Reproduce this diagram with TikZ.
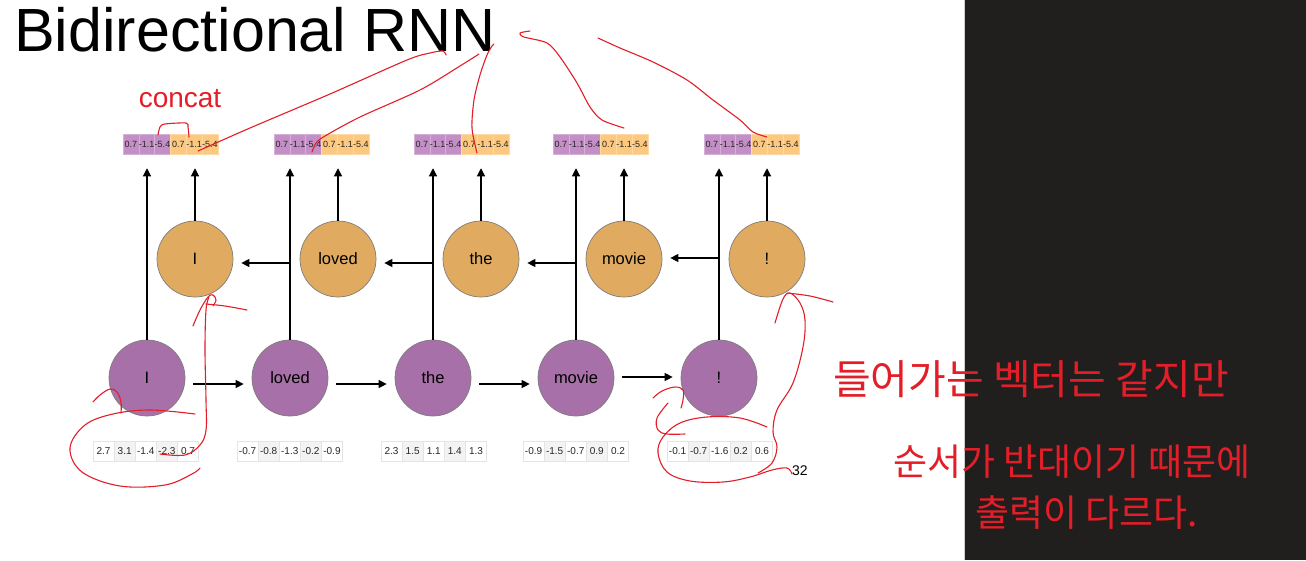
\documentclass[tikz,border=0pt]{standalone}
\usepackage{fontspec}
\setmainfont{Liberation Sans}
\newfontfamily\krfont{Noto Sans CJK KR}
\usetikzlibrary{arrows.meta,calc}
\definecolor{purpnode}{RGB}{168,112,168}
\definecolor{orngnode}{RGB}{224,170,96}
\definecolor{vpurp}{RGB}{195,143,198}
\definecolor{vorng}{RGB}{253,201,128}
\definecolor{cellgray}{RGB}{243,243,243}
\definecolor{celledge}{RGB}{228,228,228}
\definecolor{nodeedge}{RGB}{125,125,125}
\definecolor{ink}{RGB}{227,30,40}
\definecolor{panel}{RGB}{32,31,30}
\newcommand{\fsz}[1]{\fontsize{#1}{#1}\selectfont}
\tikzset{
  purp/.style={circle, draw=nodeedge, line width=0.7, fill=purpnode, minimum size=76, inner sep=0, font=\fsz{16.5}},
  orng/.style={circle, draw=nodeedge, line width=0.7, fill=orngnode, minimum size=76, inner sep=0, font=\fsz{16.5}},
  tcellp/.style={fill=vpurp, draw=vpurp!70!white, line width=0.5, minimum width=15.8, minimum height=20, inner sep=0, font=\fsz{9}, text=black!85},
  tcello/.style={fill=vorng, draw=vorng!70!white, line width=0.5, minimum width=15.8, minimum height=20, inner sep=0, font=\fsz{9}, text=black!85},
  bcell/.style={draw=celledge, line width=0.6, minimum width=21.1, minimum height=20, inner sep=0, font=\fsz{10}, text=black!85},
  arr/.style={-{Triangle[length=8,width=8]}, line width=1.1},
  redink/.style={draw=ink, line width=1.1, line cap=round, line join=round},
}
\begin{document}
\begin{tikzpicture}[x=1pt,y=-1pt]
\useasboundingbox (0,0) rectangle (1306,560);
\fill[white] (0,0) rectangle (1306,560);
\fill[panel] (965,0) rectangle (1306,560);
\draw[black!20, line width=1] (964.5,0) -- (964.5,560);

\node[anchor=base west, inner sep=0, font=\fsz{61}] (title) at (14,51) {Bidirectional RNN};

\foreach \i/\w in {1/I,2/loved,3/the,4/movie,5/!} {
  \node[purp] (p\i) at ({147+143*(\i-1)},378) {\w};
  \node[orng] (o\i) at ({195+143*(\i-1)},259) {\w};
}

% top vectors
\foreach \v/\L in {1/123,2/274,3/414,4/553,5/704} {
  \foreach \c/\t in {1/0.7,2/-1.1,3/-5.4} {
    \node[tcellp] (t\v-\c) at ({\L+15.8*(\c-0.5)},144) {\t};
  }
  \foreach \c/\t in {4/0.7,5/-1.1,6/-5.4} {
    \node[tcello] (t\v-\c) at ({\L+15.8*(\c-0.5)},144) {\t};
  }
}

% bottom vectors
\foreach \v/\L/\a/\b/\c/\d/\e in {1/93/2.7/3.1/-1.4/-2.3/0.7, 2/237/-0.7/-0.8/-1.3/-0.2/-0.9, 3/381/2.3/1.5/1.1/1.4/1.3, 4/523/-0.9/-1.5/-0.7/0.9/0.2, 5/667/-0.1/-0.7/-1.6/0.2/0.6} {
  \node[bcell, fill=white] (b\v-1) at ({\L+21.1*0.5},451) {\a};
  \node[bcell, fill=cellgray] (b\v-2) at ({\L+21.1*1.5},451) {\b};
  \node[bcell, fill=white] (b\v-3) at ({\L+21.1*2.5},451) {\c};
  \node[bcell, fill=cellgray] (b\v-4) at ({\L+21.1*3.5},451) {\d};
  \node[bcell, fill=white] (b\v-5) at ({\L+21.1*4.5},451) {\e};
}

% vertical arrows
\foreach \i in {1,...,5} {
  \draw[arr, shorten >=14] (p\i.north) -- (p\i.north |- t\i-1.south);
  \draw[arr, shorten >=14] (o\i.north) -- (o\i.north |- t\i-1.south);
}

% forward arrows
\draw[arr] ($(p1.east)+(8,6)$) -- ($(p2.west)+(-8,6)$);
\draw[arr] ($(p2.east)+(8,6)$) -- ($(p3.west)+(-8,6)$);
\draw[arr] ($(p3.east)+(8,6)$) -- ($(p4.west)+(-8,6)$);
\draw[arr] ($(p4.east)+(8,-1)$) -- ($(p5.west)+(-8,-1)$);

% backward arrows
\draw[arr] ($(p2.north |- o1.east)+(0,4)$) -- ($(o1.east)+(8,4)$);
\draw[arr] ($(p3.north |- o2.east)+(0,4)$) -- ($(o2.east)+(8,4)$);
\draw[arr] ($(p4.north |- o3.east)+(0,4)$) -- ($(o3.east)+(8,4)$);
\draw[arr] ($(p5.north |- o4.east)+(0,-1)$) -- ($(o4.east)+(8,-1)$);

\node[anchor=base west, inner sep=0, font=\fsz{14}] (pg) at (792,475) {32};

% ---- red annotations ----
\node[text=ink, inner sep=0, font=\fsz{28}] (cc) at (180,99) {concat};
\draw[redink] plot[smooth, tension=0.5] coordinates {(158,135) (160,127) (165,124) (186,123) (188,127) (189,137)};
\draw[redink] plot[smooth, tension=0.5] coordinates {(198,151) (250,128) (330,94) (407,60) (430,53) (443,51) (446,55)};
\draw[redink] plot[smooth, tension=0.5] coordinates {(312,152) (316,143) (325,136) (360,117) (420,90) (460,66) (479,54)};
\draw[redink] plot[smooth, tension=0.5] coordinates {(477,153) (472,128) (474,100) (480,75) (487,55) (492,46) (494,44)};
\draw[redink] plot[smooth, tension=0.5] coordinates {(530,31) (520,33) (524,37) (547,43) (560,57) (577,83) (590,107) (602,120) (624,128)};
\draw[redink] plot[smooth, tension=0.5] coordinates {(598,38) (620,48) (653,62) (687,80) (713,100) (740,120) (753,132) (767,137)};
% left annotation
\draw[redink] plot[smooth, tension=0.6] coordinates {(93,402) (100,395) (110,389) (117,392) (121,402) (121,413)};
\draw[redink] plot[smooth, tension=0.6] coordinates {(195,414) (150,410) (113,414) (85,425) (70,448) (82,472) (120,486) (165,485) (192,474) (200,468)};
\draw[redink] plot[smooth, tension=0.6] coordinates {(160,454) (185,455) (200,445) (206,430) (206,400) (205,350) (206,310) (209,297)};
\draw[redink] plot[smooth, tension=0.6] coordinates {(193,326) (200,310) (208,297) (213,295) (216,300) (213,306)};
\draw[redink] plot[smooth, tension=0.6] coordinates {(206,304) (225,306) (247,310)};
% right annotation
\draw[redink] plot[smooth, tension=0.6] coordinates {(653,398) (662,391) (675,387) (683,390) (683,400) (681,408)};
\draw[redink] plot[smooth, tension=0.6] coordinates {(668,403) (657,418) (658,430) (667,434) (685,434)};
\draw[redink] plot[smooth, tension=0.6] coordinates {(767,427) (740,418) (707,417) (680,423) (663,437) (658,453) (667,472) (690,481) (723,482) (750,477) (772,470) (787,468) (792,474)};
\draw[redink] plot[smooth, tension=0.6] coordinates {(758,473) (772,463) (777,447) (773,432) (777,410) (793,383) (803,347) (805,320) (800,303) (790,293) (783,299) (775,323)};
\draw[redink] plot[smooth, tension=0.6] coordinates {(787,293) (810,296) (833,302)};

\node[anchor=west, text=ink, inner sep=0, font=\krfont\fsz{41}] (k1) at (833,379) {들어가는 벡터는 같지만};
\node[anchor=west, text=ink, inner sep=0, font=\krfont\fsz{37}] (k2) at (893,462) {순서가 반대이기 때문에};
\node[anchor=west, text=ink, inner sep=0, font=\krfont\fsz{37}] (k3) at (975,513) {출력이 다르다.};
\end{tikzpicture}
\end{document}
